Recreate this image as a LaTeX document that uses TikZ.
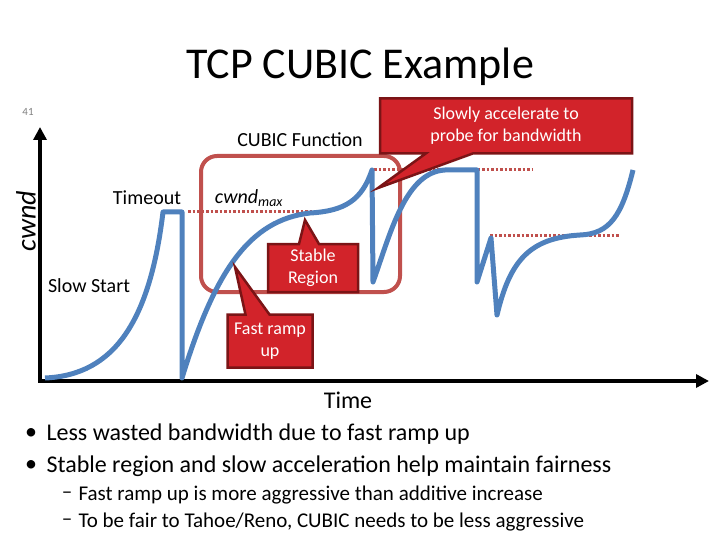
\documentclass[tikz,border=0pt]{standalone}
\usepackage{fontspec}
\setmainfont{Carlito}
\usepackage{tikz}
\usetikzlibrary{arrows.meta,shapes.callouts}

\definecolor{cubicblue}{HTML}{4F81BD}
\definecolor{boxred}{HTML}{C0504D}
\definecolor{calloutfill}{HTML}{D2232A}
\definecolor{calloutedge}{HTML}{7B1416}

\begin{document}
\begin{tikzpicture}[x=1pt, y=-1pt,
  axisline/.style={line width=4.5pt, -{Triangle[width=13pt,length=13pt]}},
  maxline/.style={boxred, line width=3pt, dash pattern=on 2.5pt off 2pt},
  redcallout/.style={rectangle callout, fill=calloutfill, draw=calloutedge,
    line width=2.5pt, text=white, align=center,
    font=\fontsize{18}{22}\selectfont},
  plaintext/.style={font=\fontsize{20}{24}\selectfont},
  bigbullet/.style={font=\fontsize{24}{28}\selectfont},
  smallbullet/.style={font=\fontsize{21}{25}\selectfont}]
  \useasboundingbox (0,0) rectangle (720,540);

  % title and slide number
  \node (title) at (360,67) {\fontsize{44}{48}\selectfont TCP CUBIC Example};
  \node[gray] (slideno) at (28,112) {\fontsize{11}{12}\selectfont 41};

  % axes
  \coordinate (origin) at (40,381);
  \coordinate (ytop) at (40,127);
  \coordinate (xend) at (709,381);
  \draw[axisline] ([yshift=2pt]origin) -- (ytop);
  \draw[axisline] ([xshift=-2pt]origin) -- (xend);
  \node[rotate=90, font=\fontsize{28}{30}\selectfont\itshape] (cwnd) at (26,221) {cwnd};
  \node[font=\fontsize{24}{28}\selectfont] (time) at (348,400) {Time};

  % cubic function region
  \draw[boxred, line width=4pt, rounded corners=16pt] (201,156) rectangle (400,292);
  \node[plaintext] (cubicfn) at (300,140) {CUBIC Function};

  % cwnd_max levels
  \draw[maxline] (188,212) -- (312,212);
  \draw[maxline] (374,170) -- (533,170);
  \draw[maxline] (490,235) -- (620,235);

  % cwnd over time
  \draw[cubicblue, line width=5pt, line join=round]
    (45,378) .. controls (115,375) and (150,320) .. (163,212)
    -- (182,212) -- (182,378)
    .. controls (215,270) and (250,220) .. (310,213)
    .. controls (345,211) and (362,200) .. (372,170)
    -- (373,282)
    .. controls (390,235) and (405,172) .. (445,170) -- (477,170)
    -- (477,282) -- (491,238) -- (497,315)
    .. controls (510,260) and (530,238) .. (580,235)
    .. controls (610,234) and (622,215) .. (633,170);

  % curve labels
  \node[plaintext] (timeout) at (147,198) {Timeout};
  \node[plaintext] (slowstart) at (89,286) {Slow Start};
  \node[font=\fontsize{20}{24}\selectfont\itshape] (cwndmax) at (249,198) {cwnd\textsubscript{max}};

  % callouts
  \node[redcallout, minimum width=252pt, minimum height=55pt,
    callout absolute pointer={(378,188)}, callout pointer width=47pt]
    (probe) at (506,126) {Slowly accelerate to\\probe for bandwidth};
  \node[redcallout, minimum width=90pt, minimum height=48pt, inner sep=1pt,
    callout absolute pointer={(305,220)}, callout pointer width=20pt]
    (stable) at (313,268) {Stable\\Region};
  \node[redcallout, minimum width=85pt, minimum height=53pt, inner sep=1pt,
    callout absolute pointer={(235,267)}, callout pointer width=24pt]
    (ramp) at (270,341) {Fast ramp\\up};

  % bullets
  \node[bigbullet] (dot1) at (31,434) {\textbullet};
  \node[bigbullet, anchor=west] (b1) at (43,434) {Less wasted bandwidth due to fast ramp up};
  \node[bigbullet] (dot2) at (31,466) {\textbullet};
  \node[bigbullet, anchor=west] (b2) at (43,466) {Stable region and slow acceleration help maintain fairness};
  \node[smallbullet] (dash1) at (67,495) {--};
  \node[smallbullet, anchor=west] (b3) at (75,495) {Fast ramp up is more aggressive than additive increase};
  \node[smallbullet] (dash2) at (67,522) {--};
  \node[smallbullet, anchor=west] (b4) at (75,522) {To be fair to Tahoe/Reno, CUBIC needs to be less aggressive};
\end{tikzpicture}
\end{document}
